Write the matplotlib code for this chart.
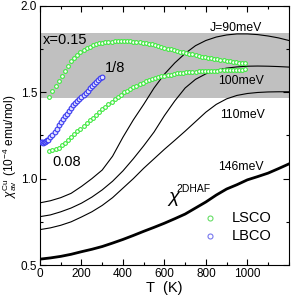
import matplotlib
matplotlib.use('Agg')
import matplotlib.pyplot as plt
import numpy as np

plt.rcParams['font.family'] = ['Liberation Sans', 'DejaVu Sans']
plt.rcParams['mathtext.fontset'] = 'custom'
plt.rcParams['mathtext.rm'] = 'Liberation Sans'
plt.rcParams['mathtext.it'] = 'Liberation Sans:italic'

# 2D Heisenberg AF susceptibility curves (T in K, chi in 1e-4 emu/mol)
T_curve = np.arange(0, 1201, 50)
chi_j90 = [0.86, 0.872, 0.89, 0.915, 0.955, 1.0, 1.05, 1.13, 1.24, 1.34, 1.43, 1.525, 1.605,
           1.67, 1.725, 1.77, 1.80, 1.82, 1.832, 1.838, 1.838, 1.834, 1.826, 1.815, 1.80]
chi_j100 = [0.78, 0.79, 0.808, 0.83, 0.858, 0.893, 0.935, 0.985, 1.045, 1.115, 1.19, 1.27, 1.365,
            1.45, 1.525, 1.575, 1.607, 1.627, 1.64, 1.647, 1.651, 1.652, 1.651, 1.649, 1.646]
chi_j110 = [0.705, 0.715, 0.73, 0.75, 0.778, 0.808, 0.845, 0.89, 0.945, 1.0, 1.06, 1.115, 1.17,
            1.222, 1.275, 1.33, 1.385, 1.43, 1.462, 1.482, 1.493, 1.499, 1.502, 1.503, 1.503]
chi_j146 = [0.534, 0.541, 0.55, 0.562, 0.577, 0.591, 0.607, 0.627, 0.648, 0.671, 0.695, 0.718,
            0.742, 0.768, 0.795, 0.83, 0.865, 0.905, 0.94, 0.965, 0.993, 1.012, 1.032, 1.058, 1.085]

# LSCO x=0.15 and x=0.08 (T = 45 ... 990 K, every 15 K)
T_lsco = np.arange(45, 1000, 15)
chi_x15 = [1.475, 1.505, 1.535, 1.565, 1.595, 1.625, 1.655, 1.68, 1.70, 1.718, 1.734, 1.747,
           1.757, 1.765, 1.772, 1.778, 1.783, 1.787, 1.79, 1.792, 1.794, 1.796, 1.797, 1.797,
           1.797, 1.796, 1.795, 1.793, 1.791, 1.789, 1.787, 1.784, 1.781, 1.777, 1.773, 1.768,
           1.763, 1.758, 1.753, 1.748, 1.744, 1.739, 1.735, 1.731, 1.727, 1.723, 1.719, 1.715,
           1.711, 1.707, 1.703, 1.700, 1.697, 1.694, 1.691, 1.688, 1.685, 1.682, 1.680, 1.677,
           1.675, 1.672, 1.669, 1.667]
chi_x08 = [1.162, 1.165, 1.171, 1.18, 1.192, 1.206, 1.222, 1.239, 1.256, 1.273, 1.29, 1.306,
           1.322, 1.338, 1.354, 1.37, 1.386, 1.401, 1.416, 1.431, 1.446, 1.46, 1.474, 1.487,
           1.499, 1.51, 1.52, 1.53, 1.539, 1.548, 1.556, 1.563, 1.57, 1.576, 1.582, 1.587,
           1.592, 1.596, 1.6, 1.603, 1.606, 1.609, 1.612, 1.614, 1.616, 1.618, 1.619, 1.62,
           1.621, 1.622, 1.623, 1.624, 1.625, 1.626, 1.626, 1.627, 1.627, 1.628, 1.628, 1.629,
           1.63, 1.63, 1.631, 1.632]

# LBCO x=1/8
T_lbco = [5, 10, 15, 20, 25, 30, 35, 40, 50, 60, 70, 80, 90, 100, 110, 120, 130, 140, 150, 160,
          170, 180, 190, 200, 210, 220, 230, 240, 250, 260, 270, 280, 290, 300]
chi_lbco = [1.215, 1.21, 1.208, 1.21, 1.215, 1.22, 1.222, 1.225, 1.24, 1.255, 1.27, 1.29, 1.31,
            1.33, 1.347, 1.362, 1.377, 1.392, 1.407, 1.424, 1.437, 1.45, 1.462, 1.474, 1.486,
            1.498, 1.51, 1.522, 1.534, 1.546, 1.558, 1.569, 1.58, 1.59]

band = (1.465, 1.845)

green = '#3ee83e'
blue = '#3a3af0'

fig = plt.figure(figsize=(2.91, 3.03), dpi=100)
ax = fig.add_axes([0.1375, 0.1254, 0.855, 0.855])

ax.axhspan(band[0], band[1], color='#c0c0c0', lw=0, zorder=0)

for chi in [chi_j90, chi_j100, chi_j110]:
    ax.plot(T_curve, chi, color='black', lw=0.8, zorder=2)
ax.plot(T_curve, chi_j146, color='black', lw=2.0, zorder=2)

ax.plot(T_lsco, chi_x15, ls='none', marker='o', ms=2.7, mfc='white', mec=green, mew=0.8, zorder=3)
ax.plot(T_lsco, chi_x08, ls='none', marker='o', ms=2.7, mfc='white', mec=green, mew=0.8, zorder=3)
ax.plot(T_lbco, chi_lbco, ls='none', marker='o', ms=3.4, mfc='#e0e0ff', mec=blue, mew=0.8, zorder=3)

ax.text(15, 1.805, 'x=0.15', fontsize=10.5, va='center', ha='left')
ax.text(312, 1.64, '1/8', fontsize=10.5, va='center', ha='left')
ax.text(58, 1.097, '0.08', fontsize=10.5, va='center', ha='left')
ax.text(820, 1.875, 'J=90meV', fontsize=8.8, va='center', ha='left')
ax.text(860, 1.568, '100meV', fontsize=8.8, va='center', ha='left')
ax.text(868, 1.37, '110meV', fontsize=8.8, va='center', ha='left')
ax.text(858, 1.068, '146meV', fontsize=8.8, va='center', ha='left')
ax.text(612, 0.885, r'$\chi$', fontsize=14, va='center', ha='left')
ax.text(660, 0.94, '2DHAF', fontsize=7.5, va='center', ha='left')

# legend drawn as markers + text
ax.plot([822], [0.774], ls='none', marker='o', ms=3.6, mfc='white', mec='#66dd66', mew=0.8)
ax.plot([822], [0.667], ls='none', marker='o', ms=3.6, mfc='white', mec='#7777ee', mew=0.8)
ax.text(925, 0.774, 'LSCO', fontsize=10.5, va='center', ha='left')
ax.text(925, 0.667, 'LBCO', fontsize=10.5, va='center', ha='left')

ax.set_xlim(0, 1200)
ax.set_ylim(0.5, 2.0)
ax.set_xticks([0, 200, 400, 600, 800, 1000])
ax.set_xticks(np.arange(0, 1201, 100), minor=True)
ax.set_yticks([0.5, 1.0, 1.5, 2.0])
ax.set_yticks(np.arange(0.5, 2.01, 0.25), minor=True)
ax.tick_params(which='both', direction='in', top=True, right=True, labelsize=8.5, pad=2)
ax.tick_params(which='major', length=4.5, width=0.8)
ax.tick_params(which='minor', length=2.5, width=0.8)
for s in ax.spines.values():
    s.set_linewidth(0.8)

ax.set_xlabel('T  (K)', fontsize=10.5, labelpad=1)
ax.set_ylabel(r'$\chi_{\rm av}^{\rm Cu}$ (10$^{-4}$ emu/mol)', fontsize=8.6)
ax.yaxis.set_label_coords(-0.085, 0.46)

fig.savefig('out.png', dpi=100)
